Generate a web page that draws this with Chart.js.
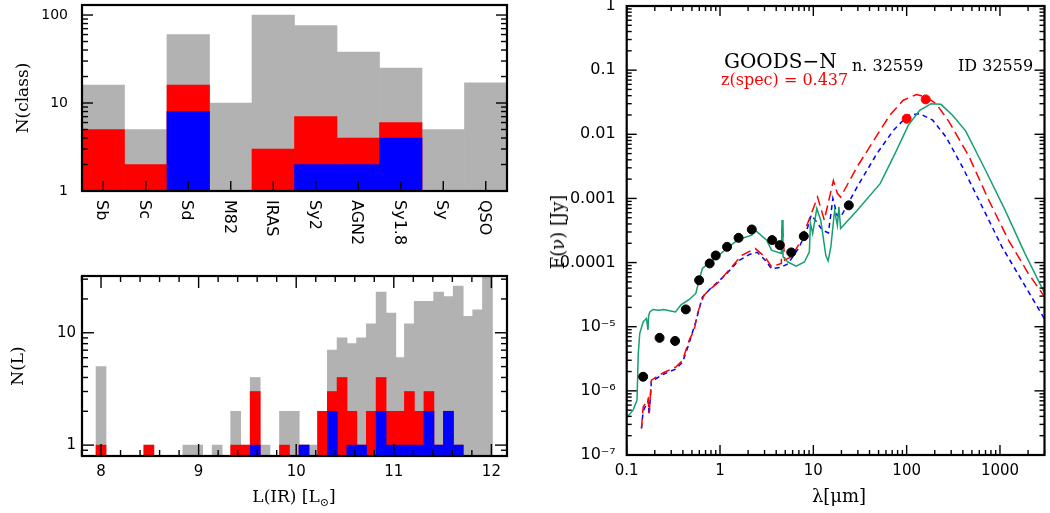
<!DOCTYPE html>
<html><head><meta charset="utf-8">
<script src="https://cdn.jsdelivr.net/npm/chart.js@4.4.1/dist/chart.umd.min.js"></script>
<style>
body{margin:0;width:1050px;height:513px;overflow:hidden;background:#fff;position:relative;}
canvas{position:absolute;left:0;top:0;}
.t{position:absolute;white-space:nowrap;color:#000;font-family:'DejaVu Serif';font-size:17px;line-height:1;}
.rot{transform:translate(-50%,-50%) rotate(-90deg);}
.ctr{transform:translate(-50%,-50%);}
</style></head><body>
<canvas id="c1" width="1050" height="513"></canvas>
<canvas id="c2" width="1050" height="513"></canvas>
<canvas id="c3" width="1050" height="513"></canvas>
<div class="t rot" style="left:22px;top:98px;">N(class)</div>
<div class="t rot" style="left:17px;top:366px;">N(L)</div>
<div class="t ctr" style="left:294px;top:498px;">L(IR) [L<sub style="font-size:11px">⊙</sub>]</div>
<div class="t rot" style="left:558px;top:232px;font-size:18px;">F(ν) [Jy]</div>
<div class="t ctr" style="left:839px;top:496px;font-size:18px;">λ[μm]</div>
<script>
// ---------- DATA ----------
const classLabels = ['Sb','Sc','Sd','M82','IRAS','Sy2','AGN2','Sy1.8','Sy','QSO'];
const classAll  = [16, 5, 60, 10, 100, 76, 38, 25, 5, 17];
const classRed  = [5, 2, 16, null, 3, 7, 4, 6, null, null];
const classBlue = [null, null, 8, null, null, 2, 2, 4, null, null];
const classYTicks = [1, 10, 100];
const classYLabels = ['1', '10', '100'];

const lumBins = [8.00,8.10,8.20,8.30,8.40,8.49,8.59,8.69,8.79,8.89,8.99,9.09,9.19,9.29,9.38,9.48,9.58,9.68,9.78,9.88,9.98,
                 10.08,10.18,10.27,10.37,10.47,10.57,10.67,10.77,10.87,10.97,11.07,11.16,11.26,11.36,11.46,11.56,11.66,11.76,11.86,11.96];
const lumAll  = [5,null,null,null,null,1,null,null,null,1,1,null,1,null,2,1,4,1,null,2,2,
                 1,1,2,7,9,8,9,12,23,15,6,12,19,19,23,21,26,14,16,40];
const lumRed  = [1,null,null,null,null,1,null,null,null,null,null,null,null,null,1,1,3,null,null,1,null,
                 1,null,2,3,4,2,1,2,4,2,2,3,2,3,1,2,1,null,null,null];
const lumBlue = [null,null,null,null,null,null,null,null,null,null,null,null,null,null,null,null,1,null,null,null,null,
                 1,null,null,2,null,1,1,null,2,1,1,1,1,2,1,2,1,null,null,null];
const lumXTicks = [8, 9, 10, 11, 12];
const lumYTicks = [1, 10];
const lumYLabels = ['1', '10'];

const photLam  = [0.15, 0.225, 0.33, 0.43, 0.597, 0.775, 0.90, 1.19, 1.58, 2.19, 3.62, 4.37, 5.8, 7.9, 24.0];
const photFlux = [1.66e-6, 6.7e-6, 6.0e-6, 1.86e-5, 5.3e-5, 9.7e-5, 1.29e-4, 1.76e-4, 2.43e-4, 3.28e-4, 2.24e-4, 1.87e-4, 1.44e-4, 2.58e-4, 7.8e-4];
const firLam   = [100, 160];
const firFlux  = [0.0175, 0.035];

const greenLam  = [0.098,0.117,0.129,0.133,0.138,0.150,0.163,0.169,0.172,0.177,0.191,0.22,0.25,0.287,0.333,0.382,0.468,0.55,0.597,0.647,0.76,0.97,
                   1.24,1.58,2.19,2.38,3.16,3.56,4.54,4.62,4.73,5.34,6.55,8.03,9.07,9.3,9.84,10.9,12.0,13.6,14.4,15.4,16.9,18.1,18.8,19.6,
                   29.4,52,75,104,138,183,233,310,430,700,1138,1853,3020];
const greenFlux = [3.7e-7,5.0e-7,7.2e-7,3.8e-6,7.9e-6,1.19e-5,1.35e-5,8.9e-6,1.5e-5,1.7e-5,1.86e-5,1.8e-5,1.85e-5,1.78e-5,1.7e-5,2.19e-5,2.66e-5,3.3e-5,5.3e-5,8.1e-5,9.8e-5,1.3e-4,
                   1.76e-4,2.29e-4,2.67e-4,3.2e-4,2.23e-4,1.56e-4,1.39e-4,4.6e-4,1.23e-4,1.02e-4,8.8e-5,1.02e-4,1.47e-4,4.1e-4,2.84e-4,6.97e-4,4.57e-4,1.3e-4,1.06e-4,1.76e-4,6.5e-4,3.8e-4,7.4e-4,3.4e-4,
                   6.5e-4,1.7e-3,5.0e-3,0.0138,0.0236,0.030,0.0293,0.0198,0.0112,2.75e-3,6.5e-4,1.38e-4,3.3e-5];

const redLam  = [0.144,0.150,0.160,0.170,0.174,0.184,0.244,0.338,0.397,0.468,0.528,0.573,0.622,0.675,0.76,0.97,1.24,1.71,2.38,3.03,3.56,4.54,4.65,4.93,5.8,7.1,8.7,
                 11.1,13.1,16.4,18.1,19.6,29.4,48,66,92,127,162,207,286,466,758,1233,2008,3020];
const redFlux = [2.6e-7,5.6e-7,6.5e-7,7.6e-7,4.5e-7,1.47e-6,1.9e-6,2.37e-6,3.0e-6,6.2e-6,8.8e-6,1.6e-5,2.3e-5,3.1e-5,3.7e-5,5.0e-5,7.6e-5,1.3e-4,1.66e-4,1.23e-4,8.6e-5,9.7e-5,3.8e-4,1.09e-4,1.23e-4,2.0e-4,4.1e-4,
                 1.05e-3,4.6e-4,1.9e-3,1.2e-3,1.05e-3,3.1e-3,9.6e-3,0.0198,0.034,0.0417,0.038,0.030,0.0155,4.5e-3,9.4e-4,2.24e-4,6.8e-5,2.9e-5];

const blueLam  = [0.144,0.150,0.170,0.174,0.184,0.244,0.338,0.397,0.468,0.55,0.647,0.80,1.13,1.58,2.1,2.5,3.03,3.56,4.54,5.34,7.0,8.4,9.5,10.6,12.5,14.5,16.2,18.0,19.6,
                  29.4,48,72,104,138,190,264,396,646,1050,1710,2780,3100];
const blueFlux = [2.6e-7,4.8e-7,7.0e-7,4.2e-7,1.4e-6,1.8e-6,2.2e-6,2.8e-6,5.6e-6,1.2e-5,2.9e-5,4.0e-5,6.3e-5,1.07e-4,1.35e-4,1.45e-4,1.1e-4,8.0e-5,8.5e-5,9.6e-5,1.7e-4,3.0e-4,5.5e-4,4.5e-4,3.2e-4,2.9e-4,1.0e-3,5.4e-4,5.1e-4,
                  1.5e-3,5.0e-3,0.0115,0.0198,0.021,0.0166,9.1e-3,3.1e-3,7.4e-4,1.76e-4,5.3e-5,1.6e-5,1.2e-5];

const sedXTicks = [0.1, 1, 10, 100, 1000];
const sedXLabels = ['0.1', '1', '10', '100', '1000'];
const sedYTicks = [1e-7, 1e-6, 1e-5, 1e-4, 1e-3, 0.01, 0.1, 1];
const sedYLabels = ['10⁻⁷', '10⁻⁶', '10⁻⁵', '0.0001', '0.001', '0.01', '0.1', '1'];

// ---------- HELPERS ----------
const GRAY = '#b2b2b2', RED = '#ff0000', BLUE = '#0000ff', GREEN = '#14a070';
function logMinors(e0, e1) { const r = []; for (let e = e0; e <= e1; e++) for (let m = 2; m <= 9; m++) r.push(m * Math.pow(10, e)); return r; }
function linMinors(a, b, step) { const r = []; for (let v = a; v <= b + 1e-9; v += step) r.push(+v.toFixed(3)); return r; }

const frameTicks = {
  id: 'frameTicks',
  afterDatasetsDraw(chart, args, o) {
    const ctx = chart.ctx, a = chart.chartArea, xs = chart.scales.x, ys = chart.scales.y;
    ctx.save();
    ctx.strokeStyle = '#000';
    ctx.lineWidth = 1.4;
    const ln = (x1, y1, x2, y2) => { ctx.beginPath(); ctx.moveTo(x1, y1); ctx.lineTo(x2, y2); ctx.stroke(); };
    (o.y || []).forEach(([vals, len]) => vals.forEach(v => {
      const p = ys.getPixelForValue(v); if (p < a.top - 0.5 || p > a.bottom + 0.5) return;
      ln(a.left, p, a.left + len, p); ln(a.right, p, a.right - len, p);
    }));
    (o.x || []).forEach(([vals, len]) => vals.forEach(v => {
      const p = xs.getPixelForValue(v); if (p < a.left - 0.5 || p > a.right + 0.5) return;
      ln(p, a.bottom, p, a.bottom - len); if (o.xTop) ln(p, a.top, p, a.top + len);
    }));
    ctx.lineWidth = 2.2;
    ctx.strokeRect(a.left, a.top, a.right - a.left, a.bottom - a.top);
    ctx.restore();
  }
};

function fixScale(w, h) {
  return s => { if (w != null) s.width = w; if (h != null) s.height = h; s.paddingTop = 0; s.paddingBottom = 0; s.paddingLeft = 0; s.paddingRight = 0; };
}
function setTicks(vals) { return s => { s.ticks = vals.map(v => ({ value: v })); }; }
function pad(area, yW, xH) { return { left: area.l - yW, top: area.t, right: 1050 - area.r, bottom: 513 - area.b - xH }; }

Chart.defaults.font.family = 'DejaVu Sans';
Chart.defaults.color = '#000';
const common = { responsive: false, animation: false, devicePixelRatio: 1, events: [] };

// ---------- PANEL 1: N(class) ----------
const A1 = { l: 82, t: 5, r: 507, b: 191 };
const catLabelPlugin = {
  id: 'catLabels',
  afterDraw(chart) {
    const ctx = chart.ctx, xs = chart.scales.x, a = chart.chartArea;
    ctx.save(); ctx.fillStyle = '#000'; ctx.font = '16px DejaVu Sans'; ctx.textAlign = 'left'; ctx.textBaseline = 'middle';
    classLabels.forEach((l, i) => { const x = xs.getPixelForValue(i); ctx.save(); ctx.translate(x - 2, a.bottom + 9); ctx.rotate(Math.PI / 2); ctx.fillText(l, 0, 0); ctx.restore(); });
    ctx.restore();
  }
};
new Chart(document.getElementById('c1'), {
  type: 'bar',
  data: { labels: classLabels, datasets: [
    { data: classBlue, backgroundColor: BLUE },
    { data: classRed, backgroundColor: RED },
    { data: classAll, backgroundColor: GRAY }
  ] },
  options: { ...common,
    layout: { padding: pad(A1, 60, 60) },
    datasets: { bar: { grouped: false, barPercentage: 1, categoryPercentage: 1, borderWidth: 0 } },
    plugins: { legend: { display: false }, tooltip: { enabled: false },
      frameTicks: { y: [[classYTicks, 11], [logMinors(0, 2), 6]], x: [[classLabels.map((l, i) => i), 10]] } },
    scales: {
      x: { type: 'category', offset: true, grid: { display: false, drawTicks: false }, border: { display: false }, ticks: { display: false }, afterFit: fixScale(null, 60) },
      y: { type: 'logarithmic', min: 1, max: 130, grid: { display: false, drawTicks: false }, border: { display: false },
        afterBuildTicks: setTicks(classYTicks), afterFit: fixScale(60, null),
        ticks: { padding: 14, font: { size: 14 }, callback: (v, i) => classYLabels[i] } }
    }
  },
  plugins: [frameTicks, catLabelPlugin]
});

// ---------- PANEL 2: N(L) ----------
const A2 = { l: 82, t: 276, r: 507, b: 456 };
const toXY = (xs, ys) => xs.map((x, i) => ({ x, y: ys[i] })).filter(p => p.y != null);
new Chart(document.getElementById('c2'), {
  type: 'bar',
  data: { datasets: [
    { data: toXY(lumBins, lumBlue), backgroundColor: BLUE },
    { data: toXY(lumBins, lumRed), backgroundColor: RED },
    { data: toXY(lumBins, lumAll), backgroundColor: GRAY }
  ] },
  options: { ...common,
    layout: { padding: pad(A2, 60, 57) },
    datasets: { bar: { grouped: false, barThickness: 10, borderWidth: 0 } },
    plugins: { legend: { display: false }, tooltip: { enabled: false },
      frameTicks: { xTop: true, y: [[lumYTicks, 12], [logMinors(-1, 1), 6]], x: [[lumXTicks, 12], [linMinors(7.8, 12.2, 0.2).filter(v => !lumXTicks.includes(Math.round(v * 1000) / 1000)), 6]] } },
    scales: {
      x: { type: 'linear', offset: false, min: 7.805, max: 12.16, bounds: 'ticks', grid: { display: false, drawTicks: false, offset: false }, border: { display: false },
        afterDataLimits: s => { s.min = 7.805; s.max = 12.16; },
        afterBuildTicks: setTicks(lumXTicks), afterFit: fixScale(null, 57),
        ticks: { padding: 7, font: { size: 15 }, callback: v => String(v) } },
      y: { type: 'logarithmic', min: 0.8, max: 32, grid: { display: false, drawTicks: false }, border: { display: false },
        afterBuildTicks: setTicks(lumYTicks), afterFit: fixScale(60, null),
        ticks: { padding: 6, font: { size: 15 }, callback: (v, i) => lumYLabels[i] } }
    }
  },
  plugins: [frameTicks]
});

// ---------- PANEL 3: SED ----------
const A3 = { l: 626.7, t: 6, r: 1050, b: 455 };
const sedText = {
  id: 'sedText',
  afterDraw(chart) {
    const ctx = chart.ctx; ctx.save(); ctx.textBaseline = 'alphabetic'; ctx.textAlign = 'left';
    ctx.fillStyle = '#000';
    ctx.font = '20px DejaVu Serif'; ctx.fillText('GOODS−N', 724, 68);
    ctx.font = '16px DejaVu Serif'; ctx.fillText('n. 32559', 852, 71); ctx.fillText('ID 32559', 958, 71);
    ctx.fillStyle = RED; ctx.font = '16px DejaVu Serif'; ctx.fillText('z(spec) = 0.437', 721, 85);
    ctx.restore();
  }
};
new Chart(document.getElementById('c3'), {
  type: 'scatter',
  data: { datasets: [
    { data: toXY(photLam, photFlux), pointRadius: 4.5, pointBackgroundColor: '#000', pointBorderColor: '#000', showLine: false },
    { data: toXY(firLam, firFlux), pointRadius: 4.5, pointBackgroundColor: RED, pointBorderColor: RED, showLine: false },
    { data: toXY(greenLam, greenFlux), showLine: true, pointRadius: 0, borderColor: GREEN, borderWidth: 1.5 },
    { data: toXY(redLam, redFlux), showLine: true, pointRadius: 0, borderColor: RED, borderWidth: 1.5, borderDash: [10, 5] },
    { data: toXY(blueLam, blueFlux), showLine: true, pointRadius: 0, borderColor: BLUE, borderWidth: 1.5, borderDash: [5, 4] }
  ] },
  options: { ...common,
    layout: { padding: pad(A3, 70, 58) },
    elements: { line: { tension: 0 } },
    plugins: { legend: { display: false }, tooltip: { enabled: false },
      frameTicks: { xTop: true, y: [[sedYTicks, 10], [logMinors(-7, -1), 5]], x: [[sedXTicks, 10], [logMinors(-1, 3), 5]] } },
    scales: {
      x: { type: 'logarithmic', min: 0.1, max: 3000, grid: { display: false, drawTicks: false }, border: { display: false },
        afterBuildTicks: setTicks(sedXTicks), afterFit: fixScale(null, 58),
        ticks: { padding: 7, font: { size: 15 }, callback: (v, i) => sedXLabels[i] } },
      y: { type: 'logarithmic', min: 1e-7, max: 1, grid: { display: false, drawTicks: false }, border: { display: false },
        afterBuildTicks: setTicks(sedYTicks), afterFit: fixScale(70, null),
        ticks: { padding: 11, font: { size: 16 }, callback: (v, i) => sedYLabels[i] } }
    }
  },
  plugins: [frameTicks, sedText]
});
</script>
</body></html>
